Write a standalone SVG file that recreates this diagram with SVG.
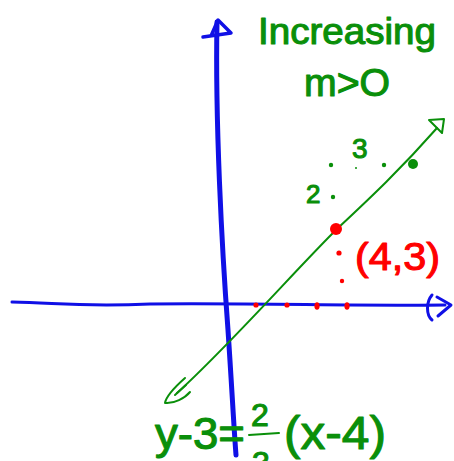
<svg xmlns="http://www.w3.org/2000/svg" width="454" height="461" viewBox="0 0 454 461">
<style>
.ax{fill:none;stroke:#1010e6;stroke-linecap:round;stroke-linejoin:round}
.gl{fill:none;stroke:#0a8f0a;stroke-width:2;stroke-linecap:round;stroke-linejoin:round}
.gt{fill:#0a8f0a;stroke:#0a8f0a;stroke-width:1.1;stroke-linejoin:round;font-family:"Liberation Sans",sans-serif}
.rt{fill:#f00;stroke:#f00;stroke-width:1.1;stroke-linejoin:round;font-family:"Liberation Sans",sans-serif}
.rd{fill:#f00}
.gd{fill:#0a8f0a}
</style>
<rect width="454" height="461" fill="#fff"/>
<g id="y-axis">
<path class="ax" stroke-width="5" d="M217,22 C215,120 222,250 228,330 C232,390 234,430 236,455"/>
<path class="ax" stroke-width="3.5" d="M203,37 L231,33 L218,20 L211,36"/>
</g>
<g id="x-axis">
<path class="ax" stroke-width="3" d="M12,302 C60,303 80,307 150,304 C260,303 350,306 445,305"/>
<path class="ax" stroke-width="3" d="M432,295 C426,302 426,315 432,320 M437,297 L451,305 L438,316"/>
</g>
<g id="line">
<path class="gl" d="M177,393 C230,345 300,265 338,228 C370,198 400,170 437,128"/>
<path class="gl" stroke-width="2.5" d="M429,120 L444,119 L442,133 Z"/>
<path class="gl" stroke-width="2.5" d="M185,378 C176,386 166,397 165,403 C174,404 185,398 190,392 M175,395 L186,385"/>
</g>
<g id="points">
<circle class="rd" cx="336" cy="229" r="6"/>
<circle class="gd" cx="413" cy="164" r="5"/>
<circle class="gd" cx="331" cy="165" r="2.2"/>
<circle class="gd" cx="333" cy="197" r="2.2"/>
<circle class="gd" cx="384" cy="165" r="2.2"/>
<circle class="gd" cx="356" cy="168" r="1"/>
<circle class="rd" cx="339" cy="253" r="2.6"/>
<circle class="rd" cx="342" cy="281" r="2.2"/>
<circle class="rd" cx="256" cy="305" r="2.6"/>
<circle class="rd" cx="287" cy="305" r="2.6"/>
<ellipse class="rd" cx="317" cy="306" rx="2.6" ry="3.8"/>
<ellipse class="rd" cx="347" cy="306" rx="2.6" ry="3.8"/>
</g>
<g id="labels">
<text class="gt" x="258" y="44" font-size="36" textLength="178" lengthAdjust="spacingAndGlyphs">Increasing</text>
<text class="gt" x="304" y="96" font-size="38" textLength="86" lengthAdjust="spacingAndGlyphs">m&gt;O</text>
<text class="gt" x="306" y="203" font-size="26" stroke-width="0.6">2</text>
<text class="gt" x="352" y="158" font-size="28" stroke-width="0.6">3</text>
<text class="rt" x="355" y="270" font-size="38" textLength="85" lengthAdjust="spacingAndGlyphs">(4,3)</text>
<text class="gt" x="155" y="449" font-size="44" textLength="90" lengthAdjust="spacingAndGlyphs">y-3=</text>
<text class="gt" x="251" y="426" font-size="32">2</text>
<path class="gl" stroke-width="3" d="M249,435 L279,433"/>
<text class="gt" x="252" y="474" font-size="32">3</text>
<text class="gt" x="284" y="449" font-size="46" textLength="102" lengthAdjust="spacingAndGlyphs">(x-4)</text>
</g>
</svg>
